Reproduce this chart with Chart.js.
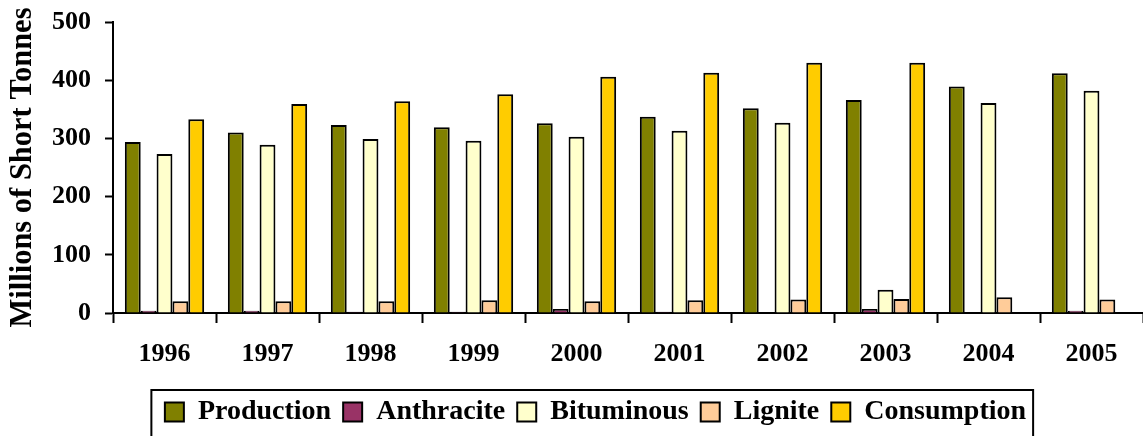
<!DOCTYPE html>
<html>
<head>
<meta charset="utf-8">
<script src="https://cdn.jsdelivr.net/npm/chart.js@4.4.1/dist/chart.umd.min.js"></script>
<style>
  html, body { margin: 0; padding: 0; background: #fff; }
  #wrap { width: 1143px; height: 436px; overflow: hidden; }
</style>
</head>
<body>
<div id="wrap"><canvas id="coalChart" width="1143" height="436"></canvas></div>
<script>
  // years on the x axis
  const years = ['1996', '1997', '1998', '1999', '2000', '2001', '2002', '2003', '2004', '2005'];

  // millions of short tonnes
  const production = [294, 310, 323, 319, 326, 337, 352, 366, 389, 412];
  const anthracite = [4, 4, 2, 2, 7, 2, 1, 7, 0, 4];
  const bituminous = [273, 289, 299, 296, 303, 313, 327, 40, 361, 382];
  const lignite = [20, 20, 20, 22, 20, 22, 23, 24, 27, 23];
  const consumption = [333, 359, 364, 376, 406, 413, 430, 430, null, null];

  const yTicks = [0, 100, 200, 300, 400, 500];

  const serif = "'Liberation Serif', 'Times New Roman', serif";

  function series(label, data, color) {
    return {
      label: label,
      data: data,
      backgroundColor: color,
      borderColor: '#000',
      borderWidth: 2,
      borderSkipped: 'bottom'
    };
  }

  // shift the legend a bit right and put a frame round it, like the original
  const legendFrame = {
    id: 'legendFrame',
    afterLayout(chart) {
      chart.legend.left += 24;
      chart.legend.right += 24;
    },
    afterDraw(chart) {
      const boxes = chart.legend.legendHitBoxes;
      if (!boxes || !boxes.length) return;
      const first = boxes[0];
      const last = boxes[boxes.length - 1];
      const mid = first.top + first.height / 2;
      const left = first.left - 13.5;
      const right = last.left + last.width + 7;
      const ctx = chart.ctx;
      ctx.save();
      ctx.strokeStyle = '#000';
      ctx.lineWidth = 2;
      ctx.strokeRect(left, mid - 22, right - left, 80);
      ctx.restore();
    }
  };

  new Chart(document.getElementById('coalChart'), {
    type: 'bar',
    data: {
      labels: years,
      datasets: [
        series('Production', production, '#808000'),
        series('Anthracite', anthracite, '#993366'),
        series('Bituminous', bituminous, '#FFFFCC'),
        series('Lignite', lignite, '#FFCC99'),
        series('Consumption', consumption, '#FFCC00')
      ]
    },
    options: {
      responsive: false,
      animation: false,
      devicePixelRatio: 1,
      datasets: { bar: { categoryPercentage: 0.77, barPercentage: 1.0 } },
      layout: { padding: { top: 22, left: 0, right: 0, bottom: 0 } },
      plugins: {
        tooltip: { enabled: false },
        legend: {
          position: 'bottom',
          labels: {
            color: '#000',
            boxWidth: 19,
            boxHeight: 19,
            padding: 12,
            font: { family: serif, size: 28, weight: 'bold' }
          }
        }
      },
      scales: {
        x: {
          grid: {
            offset: true,
            drawOnChartArea: false,
            tickLength: 10,
            tickColor: '#000',
            tickWidth: 2
          },
          border: { color: '#000', width: 2 },
          ticks: {
            color: '#000',
            padding: 16,
            maxRotation: 0,
            font: { family: serif, size: 26, weight: 'bold' }
          },
          afterFit(s) { s.height = 73; }
        },
        y: {
          min: 0,
          max: 500,
          afterBuildTicks(s) { s.ticks = yTicks.map(v => ({ value: v })); },
          grid: {
            drawOnChartArea: false,
            tickLength: 8,
            tickColor: '#000',
            tickWidth: 2
          },
          border: { color: '#000', width: 2 },
          ticks: {
            color: '#000',
            padding: 14,
            font: { family: serif, size: 26, weight: 'bold' }
          },
          title: {
            display: true,
            text: 'Millions of Short Tonnes',
            color: '#000',
            padding: { top: 5, bottom: 0 },
            font: { family: serif, size: 30.5, weight: 'bold' }
          },
          afterFit(s) {
            s.width = 113;
            // tick padding would otherwise push the plot top down
            s.paddingTop = 14;
            s.paddingBottom = 0;
          }
        }
      }
    },
    plugins: [legendFrame]
  });
</script>
</body>
</html>
